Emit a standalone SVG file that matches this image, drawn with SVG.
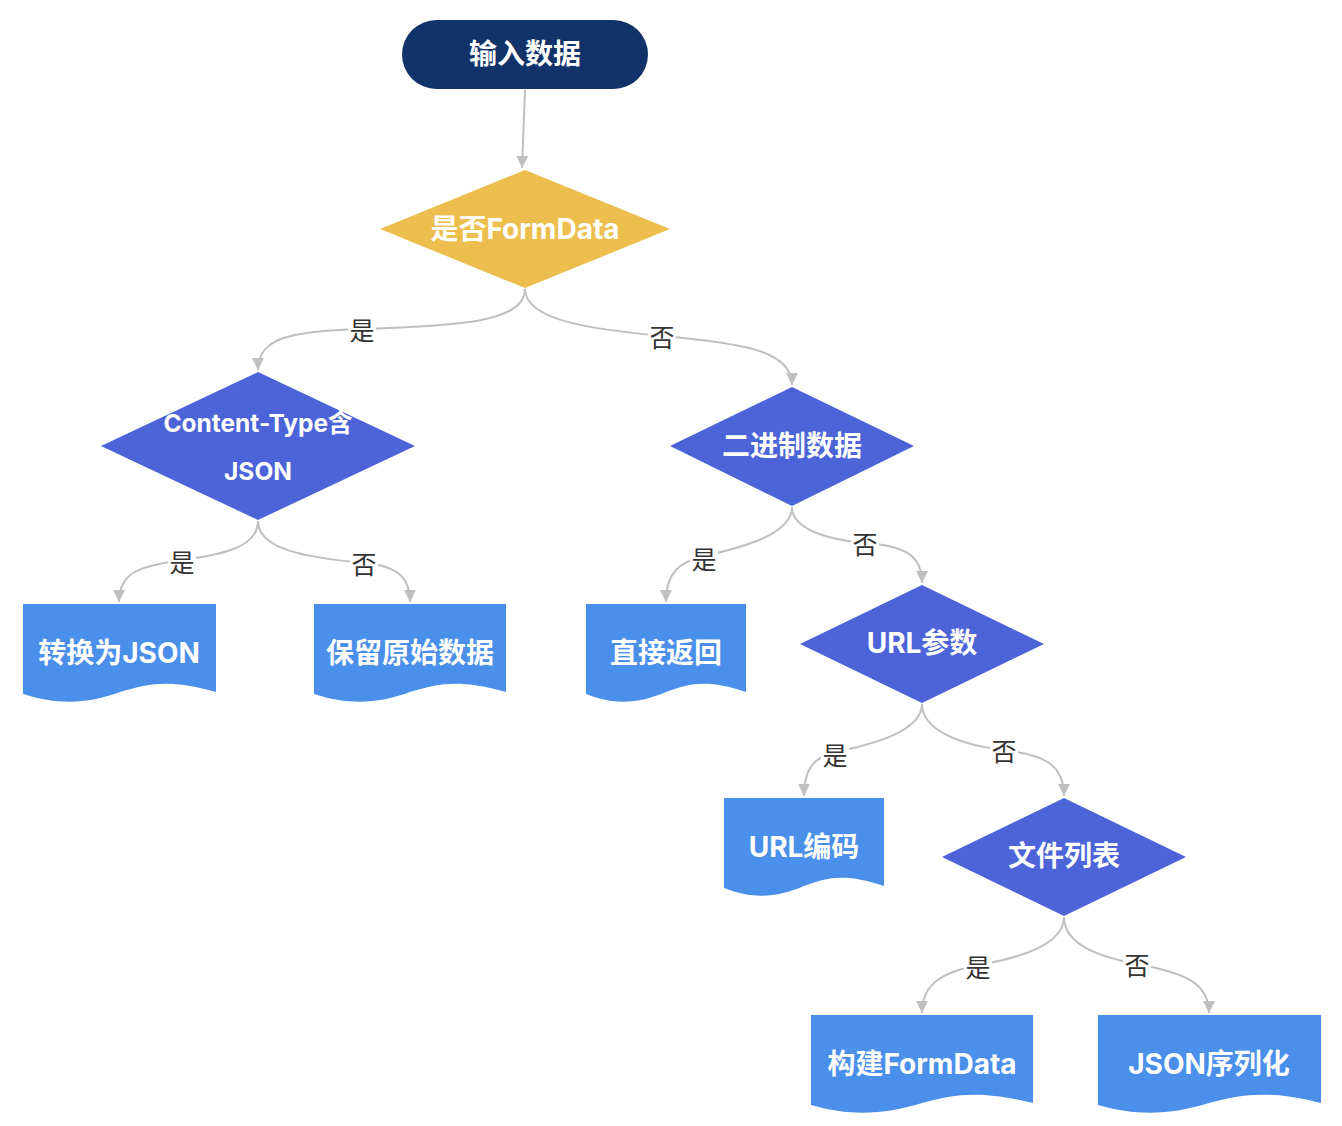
<svg xmlns="http://www.w3.org/2000/svg" width="1342" height="1126" viewBox="0 0 1342 1126">
<style>
.n{font-family:Inter,"Noto Sans CJK SC",sans-serif;font-weight:700;fill:#fff;text-anchor:middle;dominant-baseline:central}
.e{fill:none;stroke:#bfbfbf;stroke-width:2}
.l{font-family:"Noto Sans CJK SC",sans-serif;font-size:25px;fill:#333;text-anchor:middle;dominant-baseline:central}
.lb{fill:#fff}
.dia{fill:#4c64d8}
.doc{fill:#4a8fea}
</style>
<defs>
<marker id="a" viewBox="0 0 10 10" refX="10" refY="5" markerWidth="12" markerHeight="12" markerUnits="userSpaceOnUse" orient="auto">
<path d="M0,0 L10,5 L0,10 Z" fill="#bfbfbf"/>
</marker>
</defs>
<g id="edges">
<path class="e" d="M525,90 L522,168" marker-end="url(#a)"/>
<path class="e" d="M525,289 C525,322 460,326 362,329 C290,331 258,338 258,370" marker-end="url(#a)"/>
<path class="e" d="M525,289 C525,322 600,330 662,336 C740,343 792,350 792,385" marker-end="url(#a)"/>
<path class="e" d="M258,521 C258,548 220,555 182,560 C140,566 119,572 119,602" marker-end="url(#a)"/>
<path class="e" d="M258,521 C258,548 300,557 364,563 C395,566 410,575 410,602" marker-end="url(#a)"/>
<path class="e" d="M792,507 C792,535 740,548 704,556 C680,562 666,572 666,602" marker-end="url(#a)"/>
<path class="e" d="M792,507 C792,530 830,540 865,543 C905,546 922,555 922,583" marker-end="url(#a)"/>
<path class="e" d="M922,704 C922,732 870,745 835,752 C815,757 804,768 804,796" marker-end="url(#a)"/>
<path class="e" d="M922,704 C922,730 960,745 1004,750 C1045,755 1064,765 1064,796" marker-end="url(#a)"/>
<path class="e" d="M1064,917 C1064,945 1020,958 978,965 C945,972 922,982 922,1013" marker-end="url(#a)"/>
<path class="e" d="M1064,917 C1064,945 1100,957 1137,964 C1185,973 1209,983 1209,1013" marker-end="url(#a)"/>
<rect class="lb" x="348" y="315" width="28" height="28"/><text class="l" x="362" y="329">是</text>
<rect class="lb" x="648" y="322" width="28" height="28"/><text class="l" x="662" y="336">否</text>
<rect class="lb" x="168" y="547" width="28" height="28"/><text class="l" x="182" y="561">是</text>
<rect class="lb" x="350" y="549" width="28" height="28"/><text class="l" x="364" y="563">否</text>
<rect class="lb" x="690" y="544" width="28" height="28"/><text class="l" x="704" y="558">是</text>
<rect class="lb" x="851" y="529" width="28" height="28"/><text class="l" x="865" y="543">否</text>
<rect class="lb" x="821" y="740" width="28" height="28"/><text class="l" x="835" y="754">是</text>
<rect class="lb" x="990" y="736" width="28" height="28"/><text class="l" x="1004" y="750">否</text>
<rect class="lb" x="964" y="952" width="28" height="28"/><text class="l" x="978" y="966">是</text>
<rect class="lb" x="1123" y="950" width="28" height="28"/><text class="l" x="1137" y="964">否</text>
</g>
<g id="start">
<rect x="402" y="20" width="246" height="69" rx="34.5" fill="#12336a"/>
<text class="n" x="525" y="54" font-size="28">输入数据</text>
</g>
<g id="isFormData">
<path d="M525,170 L670,229 L525,288 L380,229 Z" fill="#ebbe4e"/>
<text class="n" x="525" y="229" font-size="28">是否FormData</text>
</g>
<g id="contentType">
<path class="dia" d="M258,372 L415,446 L258,520 L101,446 Z"/>
<text class="n" x="258" y="423" font-size="24.5">Content-Type含</text>
<text class="n" x="258" y="471" font-size="24.5">JSON</text>
</g>
<g id="binary">
<path class="dia" d="M792,387 L914,446 L792,506 L670,446 Z"/>
<text class="n" x="792" y="446" font-size="28">二进制数据</text>
</g>
<g id="urlParams">
<path class="dia" d="M922,585 L1044,644 L922,703 L800,644 Z"/>
<text class="n" x="922" y="643" font-size="28">URL参数</text>
</g>
<g id="fileList">
<path class="dia" d="M1064,798 L1186,857 L1064,916 L942,857 Z"/>
<text class="n" x="1064" y="856" font-size="28">文件列表</text>
</g>
<g id="toJson">
<path class="doc" d="M23,604 H216 V692 C170,679 150,683 120,692 C90,703 60,706 23,694 Z"/>
<text class="n" x="119" y="653" font-size="28">转换为JSON</text>
</g>
<g id="keepRaw">
<path class="doc" d="M314,604 H506 V692 C460,679 440,683 410,692 C380,703 350,706 314,694 Z"/>
<text class="n" x="410" y="653" font-size="28">保留原始数据</text>
</g>
<g id="returnDirect">
<path class="doc" d="M586,604 H746 V692 C708,679 690,683 666,692 C640,703 616,706 586,694 Z"/>
<text class="n" x="666" y="653" font-size="28">直接返回</text>
</g>
<g id="urlEncode">
<path class="doc" d="M724,798 H884 V886 C846,873 828,877 804,886 C778,897 754,900 724,888 Z"/>
<text class="n" x="804" y="847" font-size="28">URL编码</text>
</g>
<g id="buildFormData">
<path class="doc" d="M811,1015 H1033 V1103 C980,1090 955,1094 922,1103 C886,1114 852,1117 811,1105 Z"/>
<text class="n" x="922" y="1064" font-size="28">构建FormData</text>
</g>
<g id="jsonSerialize">
<path class="doc" d="M1098,1015 H1321 V1103 C1268,1090 1243,1094 1209,1103 C1173,1114 1139,1117 1098,1105 Z"/>
<text class="n" x="1209" y="1064" font-size="28">JSON序列化</text>
</g>
</svg>
